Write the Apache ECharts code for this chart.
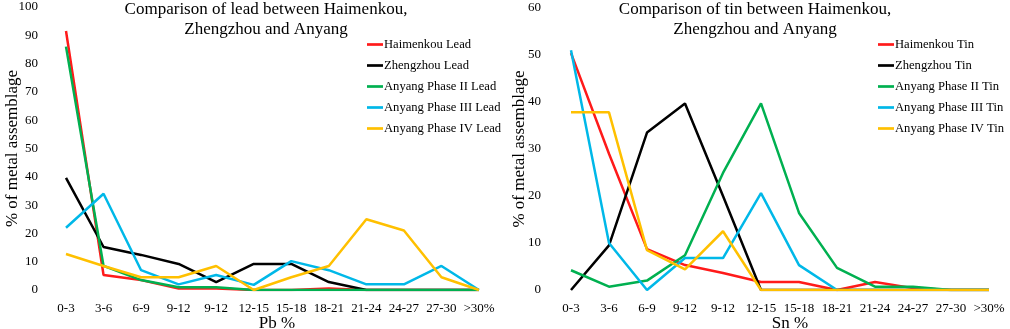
<!DOCTYPE html>
<html>
    <head>
        <meta charset="utf-8">
        <script src="https://cdn.jsdelivr.net/npm/echarts@6/dist/echarts.min.js"></script>
    </head>
    <body style="margin:0">
        <style>
            html, body, #main {
                width: 1010px;
                height: 329px;
                background: #fff;
            }
        </style>
        <div id="main"></div>
        <script>
            var categories = ['0-3', '3-6', '6-9', '9-12', '9-12', '12-15', '15-18', '18-21', '21-24', '24-27', '27-30', '>30%'];

            // lead, % of metal assemblage
            var leadHaimenkou = [91.5, 5.3, 3.5, 0.5, 0.5, 0, 0, 0.5, 0, 0, 0, 0];
            var leadZhengzhou = [39.6, 15.2, 12.4, 9.2, 2.8, 9.2, 9.2, 2.8, 0, 0, 0, 0];
            var leadPhase2 = [86, 8.5, 3.5, 1, 1, 0, 0, 0, 0, 0, 0, 0];
            var leadPhase3 = [22, 34, 7, 2, 5.3, 1.8, 10.2, 7, 2, 2, 8.5, 0];
            var leadPhase4 = [12.7, 8.5, 4.5, 4.5, 8.5, 0, 4.5, 8.5, 25, 21, 4.5, 0];

            // tin, % of metal assemblage
            var tinHaimenkou = [50.4, 29, 8.7, 5.3, 3.6, 1.7, 1.7, 0, 1.7, 0.4, 0, 0];
            var tinZhengzhou = [0, 9.5, 33.5, 39.7, 20, 0, 0, 0, 0, 0, 0, 0];
            var tinPhase2 = [4.2, 0.7, 2, 7.4, 24.9, 39.7, 16.4, 4.7, 0.7, 0.7, 0, 0];
            var tinPhase3 = [51, 10, 0, 6.8, 6.8, 20.6, 5.3, 0, 0, 0, 0, 0];
            var tinPhase4 = [37.8, 37.8, 8.5, 4.4, 12.5, 0, 0, 0, 0, 0, 0, 0];

            var colors = ['#ff1a1a', '#000000', '#00b050', '#00b8e8', '#ffc000'];
            var font = "'Liberation Serif', 'Times New Roman', serif";

            var leadNames = ['Haimenkou Lead', 'Zhengzhou Lead', 'Anyang Phase II Lead', 'Anyang Phase III Lead', 'Anyang Phase IV Lead'];
            var tinNames = ['Haimenkou Tin', 'Zhengzhou Tin', 'Anyang Phase II Tin', 'Anyang Phase III Tin', 'Anyang Phase IV Tin'];
            var leadData = [leadHaimenkou, leadZhengzhou, leadPhase2, leadPhase3, leadPhase4];
            var tinData = [tinHaimenkou, tinZhengzhou, tinPhase2, tinPhase3, tinPhase4];

            function xAxis(idx, name, shift) {
                return {
                    type: 'category', gridIndex: idx, data: categories, boundaryGap: false,
                    name: name, nameLocation: 'middle', nameGap: 25, nameMoveOverlap: false,
                    nameTextStyle: { fontFamily: font, fontSize: 17, color: '#000', padding: [0, 0, 0, shift] },
                    axisLine: { show: false }, axisTick: { show: false },
                    axisLabel: { fontFamily: font, fontSize: 13, color: '#000', margin: 12, interval: 0 },
                    splitLine: { show: false }
                };
            }
            function yAxis(idx, max, margin, gap) {
                return {
                    type: 'value', gridIndex: idx, min: 0, max: max, interval: 10,
                    name: '% of metal assemblage', nameLocation: 'middle', nameGap: gap, nameMoveOverlap: false,
                    nameTextStyle: { fontFamily: font, fontSize: 17, color: '#000' },
                    axisLine: { show: false }, axisTick: { show: false },
                    axisLabel: { fontFamily: font, fontSize: 13, color: '#000', margin: margin },
                    splitLine: { show: false }
                };
            }
            function legend(names, left) {
                return {
                    orient: 'vertical', left: left, top: 38, padding: 0, data: names,
                    itemWidth: 16, itemHeight: 14, itemGap: 8,
                    icon: 'path://M0,0 H16 V2.7 H0 Z',
                    textStyle: { fontFamily: font, fontSize: 12.6, color: '#000', padding: [0, 0, 0, -4] }
                };
            }

            var series = [];
            for (var i = 0; i < 5; i++) {
                series.push({
                    name: leadNames[i], type: 'line', xAxisIndex: 0, yAxisIndex: 0,
                    data: leadData[i], symbol: 'none', color: colors[i],
                    lineStyle: { width: 2.5, color: colors[i] }
                });
                series.push({
                    name: tinNames[i], type: 'line', xAxisIndex: 1, yAxisIndex: 1,
                    data: tinData[i], symbol: 'none', color: colors[i],
                    lineStyle: { width: 2.5, color: colors[i] }
                });
            }

            var chart = echarts.init(document.getElementById('main'));
            chart.setOption({
                animation: false,
                title: [
                    {
                        text: 'Comparison of lead between Haimenkou,\nZhengzhou and Anyang',
                        left: 266, top: 0, padding: 0, textAlign: 'center',
                        textStyle: { fontFamily: font, fontSize: 17, fontWeight: 'normal', color: '#000', lineHeight: 20 }
                    },
                    {
                        text: 'Comparison of tin between Haimenkou,\nZhengzhou and Anyang',
                        left: 755, top: 0, padding: 0, textAlign: 'center',
                        textStyle: { fontFamily: font, fontSize: 17, fontWeight: 'normal', color: '#000', lineHeight: 20 }
                    }
                ],
                legend: [legend(leadNames, 367), legend(tinNames, 878)],
                grid: [
                    { left: 66, top: 7, width: 413, height: 283, outerBoundsMode: 'none' },
                    { left: 571, top: 8, width: 418, height: 282, outerBoundsMode: 'none' }
                ],
                xAxis: [xAxis(0, 'Pb %', 9), xAxis(1, 'Sn %', 20)],
                yAxis: [yAxis(0, 100, 28, 45), yAxis(1, 60, 30, 43)],
                series: series
            });
        </script>
    </body>
</html>
